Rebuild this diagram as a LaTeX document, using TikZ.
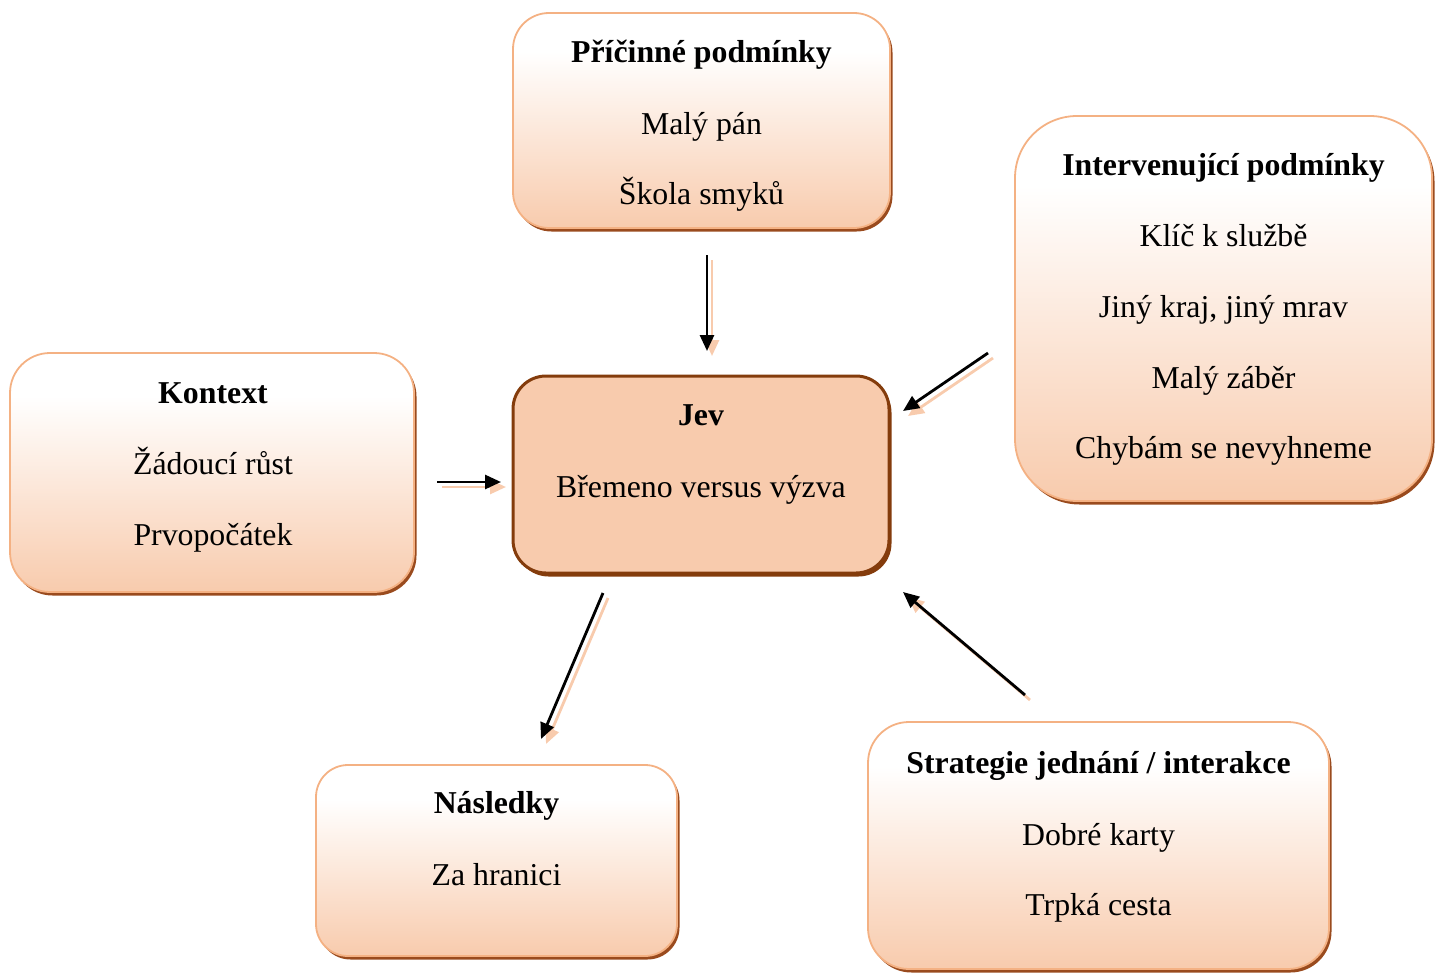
\documentclass[tikz,border=0pt]{standalone}
\usepackage{fontspec}
\setmainfont{Liberation Serif}
\usetikzlibrary{arrows.meta,shadows}
\definecolor{peach}{HTML}{F8CBAD}
\definecolor{borderor}{HTML}{F4B183}
\definecolor{darkbr}{HTML}{843C0C}
\definecolor{shadowbr}{HTML}{9A4B1E}
\pgfdeclareverticalshading{peachgrad}{100bp}{color(0bp)=(peach); color(25bp)=(peach); color(66bp)=(white); color(100bp)=(white)}
\begin{document}
\begin{tikzpicture}[x=1pt,y=-1pt,
  gbox/.style={rectangle, draw=borderor, line width=1.8pt, shading=peachgrad,
    drop shadow={shadow xshift=2.5pt, shadow yshift=-3.5pt, fill=shadowbr, opacity=1}, inner sep=0pt},
  jbox/.style={rectangle, draw=darkbr, line width=3pt, fill=peach,
    drop shadow={shadow xshift=2.5pt, shadow yshift=-3.5pt, fill=darkbr, opacity=1}, inner sep=0pt},
  ttl/.style={anchor=base, font=\fontsize{31.8}{38}\selectfont\bfseries, inner sep=0pt},
  itm/.style={anchor=base, font=\fontsize{31.8}{38}\selectfont, inner sep=0pt},
  arr/.style={line width=2.8pt, -{Triangle[length=16pt,width=14pt]}},
  sarr/.style={arr, draw=peach, transform canvas={shift={(5pt,-5pt)}}}]
\useasboundingbox (0,0) rectangle (1443,974);

% boxes
\node[gbox, rounded corners=36pt, minimum width=377pt, minimum height=215pt] (P) at (701.5,120.5) {};
\node[jbox, rounded corners=33pt, minimum width=376pt, minimum height=197pt] (J) at (701,474.5) {};
\node[gbox, rounded corners=40pt, minimum width=404pt, minimum height=239pt] (K) at (212,472.5) {};
\node[gbox, rounded corners=62pt, minimum width=417pt, minimum height=385pt] (I) at (1223.5,308.5) {};
\node[gbox, rounded corners=32pt, minimum width=361pt, minimum height=191pt] (N) at (496.5,860.5) {};
\node[gbox, rounded corners=41pt, minimum width=461pt, minimum height=247pt] (S) at (1098.5,845.5) {};

% texts
\node[ttl] (Pt) at (701.5,63) {Příčinné podmínky};
\node[itm] (P1) at (701.5,134) {Malý pán};
\node[itm] (P2) at (701.5,204) {Škola smyků};

\node[ttl] (Jt) at (701,425) {Jev};
\node[itm] (J1) at (701,497) {Břemeno versus výzva};

\node[ttl] (Kt) at (213,403) {Kontext};
\node[itm] (K1) at (213,474) {Žádoucí růst};
\node[itm] (K2) at (213,545) {Prvopočátek};

\node[ttl] (It) at (1223.5,175) {Intervenující podmínky};
\node[itm] (I1) at (1223.5,246) {Klíč k službě};
\node[itm] (I2) at (1223.5,317) {Jiný kraj, jiný mrav};
\node[itm] (I3) at (1223.5,388) {Malý záběr};
\node[itm] (I4) at (1223.5,458) {Chybám se nevyhneme};

\node[ttl] (Nt) at (496.5,813) {Následky};
\node[itm] (N1) at (496.5,885) {Za hranici};

\node[ttl] (St) at (1098.5,773) {Strategie jednání / interakce};
\node[itm] (S1) at (1098.5,845) {Dobré karty};
\node[itm] (S2) at (1098.5,915) {Trpká cesta};

% arrow end points
\coordinate (a1s) at (707,255);  \coordinate (a1e) at (707,351);
\coordinate (a2s) at (437,482);  \coordinate (a2e) at (501,482);
\coordinate (a3s) at (988,353);  \coordinate (a3e) at (903,411);
\coordinate (a4s) at (603,593);  \coordinate (a4e) at (541,739);
\coordinate (a5s) at (1025,695); \coordinate (a5e) at (903,592);

% arrow shadows
\foreach \n in {1,...,5}{
  \draw[sarr] (a\n s) -- (a\n e);
}
% arrows
\foreach \n in {1,...,5}{
  \draw[arr] (a\n s) -- (a\n e);
}
\end{tikzpicture}
\end{document}
